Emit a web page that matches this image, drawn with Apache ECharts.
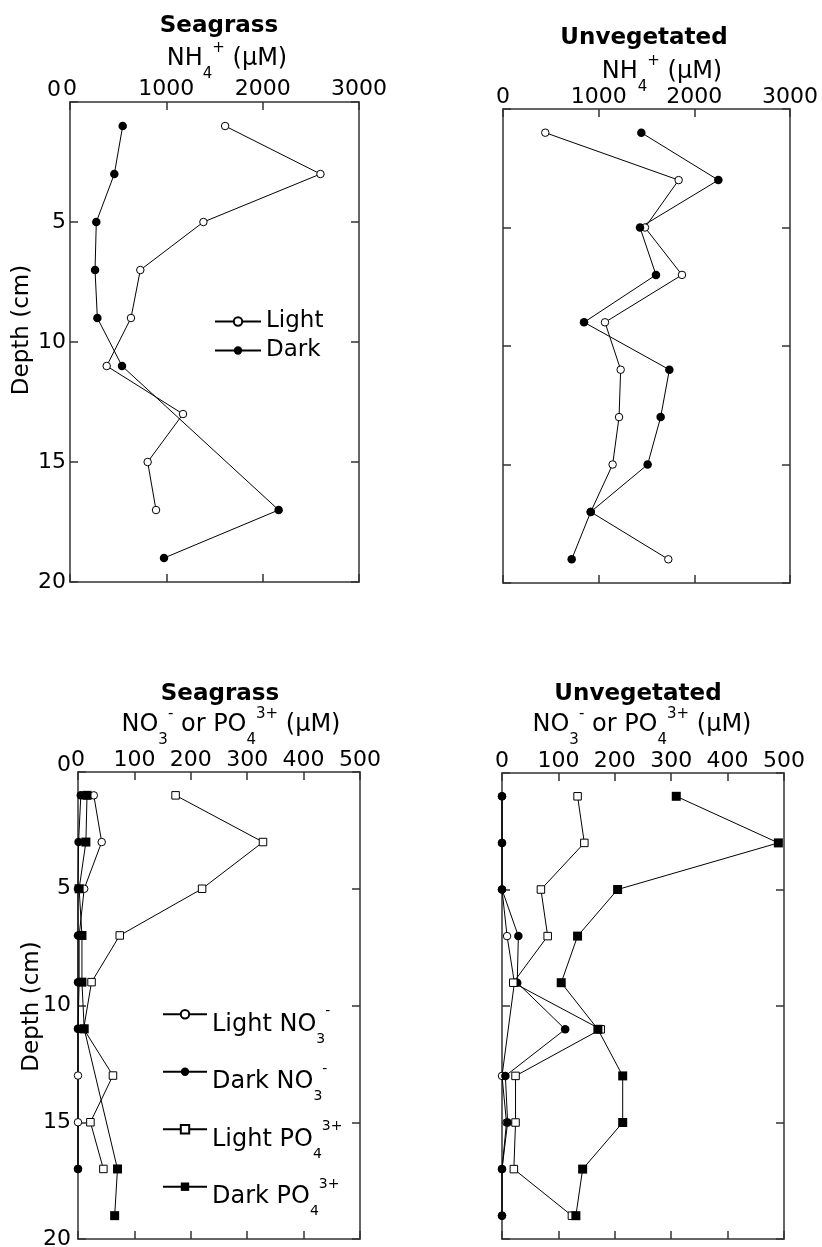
<!DOCTYPE html>
<html><head><meta charset="utf-8">
<script src="https://cdn.jsdelivr.net/npm/echarts@6/dist/echarts.min.js"></script>
<style>html,body{margin:0;padding:0;background:#fff}#c{width:822px;height:1247px}</style>
</head><body><div id="c"></div>
<script>
// ---------- data ----------
const depthLight = [1, 3, 5, 7, 9, 11, 13, 15, 17];
const depthDarkSeagrass = [1, 3, 5, 7, 9, 11, 17, 19];
const depthDarkNO3Seagrass = [1, 3, 5, 7, 9, 11, 17];
const depthAll = [1, 3, 5, 7, 9, 11, 13, 15, 17, 19];
const depthLightNO3Unveg = [1, 3, 5, 7, 9, 13, 15, 17, 19];

// NH4+ (uM)
const seagrassLightNH4 = [1610, 2600, 1385, 730, 633, 381, 1173, 806, 893];
const seagrassDarkNH4 = [547, 460, 273, 260, 284, 540, 2166, 976];
const unvegLightNH4 = [442, 1836, 1484, 1871, 1066, 1230, 1213, 1146, 917, 1728];
const unvegDarkNH4 = [1446, 2251, 1432, 1599, 847, 1739, 1648, 1512, 917, 718];

// NO3- and PO4 3+ (uM)
const seagrassLightNO3 = [28, 42, 11, 2, 2, 0, 0, 0, 0];
const seagrassDarkNO3 = [5, 1, 0, 0, 0, 0, 0];
const seagrassLightPO4 = [173, 328, 220, 74, 24, 10, 62, 22, 45];
const seagrassDarkPO4 = [16, 14, 2, 7, 7, 11, 70, 65];
const unvegLightNO3 = [0, 0, 0, 9, 22, 0, 8, 0, 0];
const unvegDarkNO3 = [0, 0, 0, 29, 27, 112, 6, 10, 0, 0];
const unvegLightPO4 = [134, 146, 69, 81, 20, 175, 24, 24, 21, 124];
const unvegDarkPO4 = [309, 490, 205, 134, 105, 170, 214, 214, 143, 131];

// axis ranges / ticks
const nh4Axis = { min: 0, max: 3000, interval: 1000 };
const nutAxis = { min: 0, max: 500, interval: 100 };
const depthAxis = { min: 0, max: 20, interval: 5 };

// ---------- styling ----------
const FF = 'DejaVu Sans';
const AX = '#333';
const grids = [
  { left: 70, top: 102, width: 289, height: 480 },
  { left: 503, top: 109, width: 287, height: 474 },
  { left: 78, top: 772, width: 282, height: 467 },
  { left: 502, top: 773, width: 282, height: 466 }
];

const xAxes = [], yAxes = [];
const xr = [nh4Axis, nh4Axis, nutAxis, nutAxis];
const xMargin = [2, 1, 1, 1];
const yLab = [true, false, true, false];
const yMargin = [4, 4, 7, 4];
const zeroPad = [[0, 5, 24, 0], [0, 0, 0, 0], [0, 0, 14, 0], [0, 0, 0, 0]];
grids.forEach((g, i) => {
  const line = { show: true, onZero: false, lineStyle: { color: AX, width: 1.5 } };
  const tick = { show: true, inside: true, length: 8, lineStyle: { color: AX, width: 1.5 } };
  xAxes.push({ type: 'value', gridIndex: i, position: 'top', min: xr[i].min, max: xr[i].max, interval: xr[i].interval,
    axisLine: line, axisTick: tick, splitLine: { show: false },
    axisLabel: { show: true, fontSize: 22, fontFamily: FF, color: '#000', margin: xMargin[i], showMinLabel: true, showMaxLabel: true,
      formatter: v => String(v) } });
  xAxes.push({ type: 'value', gridIndex: i, position: 'bottom', min: xr[i].min, max: xr[i].max, interval: xr[i].interval,
    axisLine: line, axisTick: tick, splitLine: { show: false }, axisLabel: { show: false } });
  yAxes.push({ type: 'value', gridIndex: i, position: 'left', inverse: true, min: depthAxis.min, max: depthAxis.max, interval: depthAxis.interval,
    axisLine: line, axisTick: tick, splitLine: { show: false },
    axisLabel: { show: yLab[i], fontSize: 22, fontFamily: FF, color: '#000', margin: yMargin[i], showMinLabel: true, showMaxLabel: true,
      formatter: v => v === 0 ? '{z|0}' : String(v),
      rich: { z: { fontSize: 22, fontFamily: FF, color: '#000', padding: zeroPad[i] } } } });
  yAxes.push({ type: 'value', gridIndex: i, position: 'right', inverse: true, min: depthAxis.min, max: depthAxis.max, interval: depthAxis.interval,
    axisLine: line, axisTick: tick, splitLine: { show: false }, axisLabel: { show: false } });
});

const markerStyles = {
  openCircle: { symbol: 'circle', symbolSize: 7.5, itemStyle: { color: '#fff', borderColor: '#000', borderWidth: 1 } },
  filledCircle: { symbol: 'circle', symbolSize: 8.5, itemStyle: { color: '#000', borderColor: '#000', borderWidth: 0 } },
  openSquare: { symbol: 'rect', symbolSize: 7.5, itemStyle: { color: '#fff', borderColor: '#000', borderWidth: 1 } },
  filledSquare: { symbol: 'rect', symbolSize: 9, itemStyle: { color: '#000', borderColor: '#000', borderWidth: 0 } }
};
function ser(name, gi, xs, ys, kind) {
  const m = markerStyles[kind];
  return {
    type: 'line', name, xAxisIndex: gi * 2, yAxisIndex: gi * 2,
    data: xs.map((x, k) => [x, ys[k]]),
    symbol: m.symbol, symbolSize: m.symbolSize, itemStyle: m.itemStyle, showSymbol: true,
    lineStyle: { color: '#000', width: 1 }, clip: false, silent: true, animation: false,
    emphasis: { disabled: true }
  };
}
const series = [
  ser('Light', 0, seagrassLightNH4, depthLight, 'openCircle'),
  ser('Dark', 0, seagrassDarkNH4, depthDarkSeagrass, 'filledCircle'),
  ser('U Light', 1, unvegLightNH4, depthAll, 'openCircle'),
  ser('U Dark', 1, unvegDarkNH4, depthAll, 'filledCircle'),
  ser('Light NO3', 2, seagrassLightNO3, depthLight, 'openCircle'),
  ser('Dark NO3', 2, seagrassDarkNO3, depthDarkNO3Seagrass, 'filledCircle'),
  ser('Light PO4', 2, seagrassLightPO4, depthLight, 'openSquare'),
  ser('Dark PO4', 2, seagrassDarkPO4, depthDarkSeagrass, 'filledSquare'),
  ser('U Light NO3', 3, unvegLightNO3, depthLightNO3Unveg, 'openCircle'),
  ser('U Dark NO3', 3, unvegDarkNO3, depthAll, 'filledCircle'),
  ser('U Light PO4', 3, unvegLightPO4, depthAll, 'openSquare'),
  ser('U Dark PO4', 3, unvegDarkPO4, depthAll, 'filledSquare')
];

const legendNames = ['Light NO3', 'Dark NO3', 'Light PO4', 'Dark PO4'];
const legendLabels = {
  'Light NO3': '{m|Light NO}{sb|3}{sp|-}',
  'Dark NO3': '{m|Dark NO}{sb|3}{sp|-}',
  'Light PO4': '{m|Light PO}{sb|4}{sp|3+}',
  'Dark PO4': '{m|Dark PO}{sb|4}{sp|3+}'
};
const legendRowY = [1014.3, 1071.7, 1129.3, 1186.7];
const bottomLegends = legendNames.map((n, k) => ({
  data: [n], orient: 'vertical', left: 162, top: legendRowY[k] - 20, padding: 0,
  itemWidth: 44, itemHeight: 10.5, itemGap: 0, selectedMode: false,
  formatter: nm => legendLabels[nm],
  textStyle: { fontSize: 24, fontFamily: FF, color: '#000', lineHeight: 40,
    rich: {
      m: { fontSize: 24, fontFamily: FF, color: '#000', padding: [21, 0, 0, 0] },
      sb: { fontSize: 14, fontFamily: FF, color: '#000', padding: [50, 0, 0, 0] },
      sp: { fontSize: 14, fontFamily: FF, color: '#000', padding: [0, 0, 5, 0] }
    } }
}));

const titleRich = {
  m: { fontSize: 24, fontFamily: FF, fill: '#000' },
  sb: { fontSize: 15, fontFamily: FF, fill: '#000', padding: [30, 0, 0, 0] },
  sp: { fontSize: 15, fontFamily: FF, fill: '#000', padding: [0, 0, 22, 0] }
};
const NH_TEXT = '{m|NH}{sb|4}{sp|+}{m| (\u03bcM)}';
const NO_TEXT = '{m|NO}{sb|3}{sp|-}{m| or PO}{sb|4}{sp|3+}{m| (\u03bcM)}';
function bold(text, x, y) {
  return { type: 'text', x, y, silent: true, style: { text, font: 'bold 23px "' + FF + '"', fill: '#000', align: 'center', verticalAlign: 'middle' } };
}
function rich(text, x, y) {
  return { type: 'text', x, y, silent: true, style: { text, fill: '#000', align: 'center', verticalAlign: 'middle', lineHeight: 30, fontSize: 24, fontFamily: FF, rich: titleRich } };
}
function depthLabel(x, y) {
  return { type: 'text', x, y, rotation: Math.PI / 2, silent: true, style: { text: 'Depth (cm)', font: '23px "' + FF + '"', fill: '#000', align: 'center', verticalAlign: 'middle' } };
}

const option = {
  backgroundColor: '#fff',
  animation: false,
  textStyle: { fontFamily: FF },
  grid: grids.map(g => Object.assign({ containLabel: false, outerBoundsMode: 'none' }, g)),
  xAxis: xAxes,
  yAxis: yAxes,
  series,
  legend: [
    { data: ['Light', 'Dark'], orient: 'vertical', left: 214, top: 310, padding: 0, itemWidth: 46, itemHeight: 10.5, itemGap: 6,
      selectedMode: false, textStyle: { fontSize: 23, fontFamily: FF, color: '#000', lineHeight: 23 } }
  ].concat(bottomLegends),
  graphic: [
    bold('Seagrass', 219, 26),
    rich(NH_TEXT, 227, 59),
    bold('Unvegetated', 644, 38),
    rich(NH_TEXT, 662, 72),
    bold('Seagrass', 220, 694),
    rich(NO_TEXT, 231, 725),
    bold('Unvegetated', 638, 694),
    rich(NO_TEXT, 642, 725),
    depthLabel(22.5, 330),
    depthLabel(31.7, 1006.5)
  ]
};
const chart = echarts.init(document.getElementById('c'), null, { renderer: 'canvas' });
chart.setOption(option);
</script></body></html>
